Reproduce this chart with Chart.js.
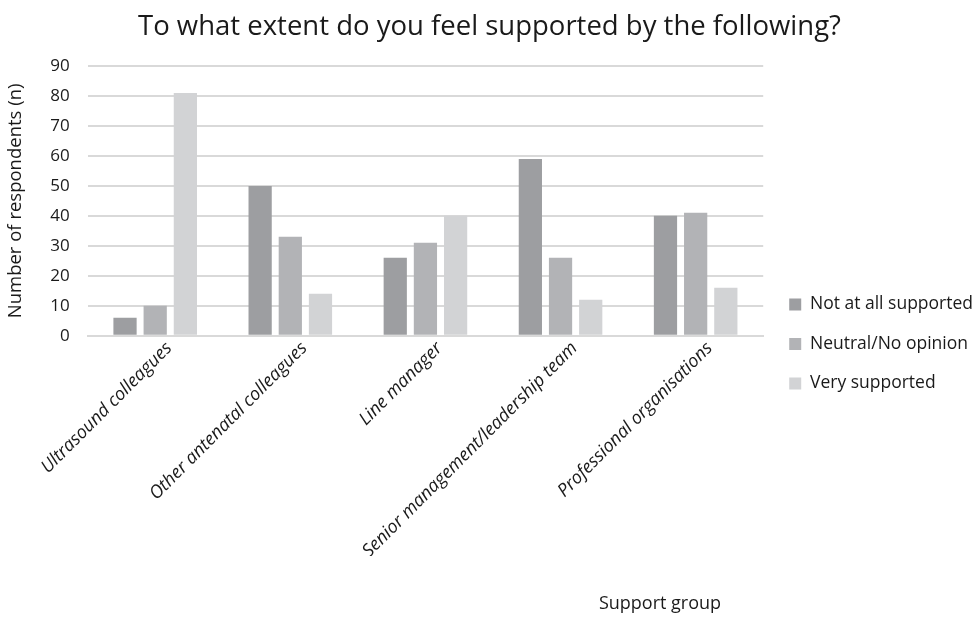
<!DOCTYPE html>
<html>
<head>
<meta charset="utf-8">
<script src="https://cdn.jsdelivr.net/npm/chart.js@4"></script>
<style>
  html, body { margin: 0; padding: 0; background: #fff; }
  #wrap { width: 974px; height: 617px; }
</style>
</head>
<body>
<div id="wrap"><canvas id="supportChart"></canvas></div>
<script>
const groups = ["Ultrasound colleagues", "Other antenatal colleagues", "Line manager",
  "Senior management/leadership team", "Professional organisations"];
const notSupported = [6, 50, 26, 59, 40];
const neutral = [10, 33, 31, 26, 41];
const verySupported = [81, 14, 40, 12, 16];

const fontFamily = "'Open Sans', 'Noto Sans', sans-serif";
const textColor = "#1a1a1a";

// x axis title sits right of centre in the original, so draw it by hand
const xTitlePlugin = {
  id: "xTitle",
  afterLayout(chart) {
    // legend sits low beside the plot in the original
    chart.legend.top += 66;
    chart.legend.bottom += 66;
    chart.legend.left += 4;
    chart.legend.right += 4;
  },
  afterDraw(chart) {
    const ctx = chart.ctx;
    ctx.save();
    ctx.font = "18px " + fontFamily;
    ctx.fillStyle = textColor;
    ctx.textAlign = "center";
    ctx.textBaseline = "middle";
    ctx.fillText("Support group", 660, 604);
    ctx.restore();
  }
};

const chart = new Chart("supportChart", {
  type: "bar",
  data: {
    labels: groups,
    datasets: [
      { label: "Not at all supported", data: notSupported, backgroundColor: "#9d9ea1" },
      { label: "Neutral/No opinion", data: neutral, backgroundColor: "#b2b3b6" },
      { label: "Very supported", data: verySupported, backgroundColor: "#d2d3d5" },
    ],
  },
  options: {
    responsive: true,
    maintainAspectRatio: false,
    animation: false,
    categoryPercentage: 0.67,
    barPercentage: 0.77,
    layout: { padding: { left: 0, right: -5, bottom: 61, top: 0 } },
    plugins: {
      title: {
        display: true,
        text: "To what extent do you feel supported by the following?",
        color: textColor,
        font: { family: fontFamily, size: 27.5, weight: "normal" },
        padding: { top: 11, bottom: 22 },
      },
      legend: {
        position: "right",
        align: "center",
        labels: {
          color: textColor,
          font: { family: fontFamily, size: 17.5 },
          boxWidth: 12,
          boxHeight: 12,
          padding: 22,
        },
      },
      tooltip: { enabled: false },
    },
    scales: {
      x: {
        grid: { display: false },
        border: { color: "#d9d9d9", width: 2 },
        ticks: {
          color: textColor,
          font: { family: fontFamily, size: 18, style: "italic" },
          maxRotation: 45,
          minRotation: 45,
          padding: -6,
          labelOffset: 14,
        },
      },
      y: {
        min: 0,
        max: 90,
        ticks: {
          stepSize: 10,
          color: textColor,
          font: { family: fontFamily, size: 17 },
          padding: 18,
        },
        grid: { color: "#d9d9d9", lineWidth: 2, drawTicks: false },
        border: { display: false },
        title: {
          display: true,
          text: "Number of respondents (n)",
          color: textColor,
          font: { family: fontFamily, size: 18.5 },
          padding: 5,
        },
      },
    },
  },
  plugins: [xTitlePlugin],
});
</script>
</body>
</html>
